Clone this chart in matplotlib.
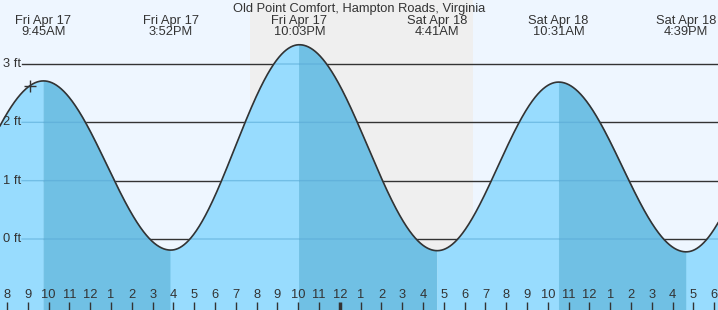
import numpy as np
import matplotlib
matplotlib.use("Agg")
import matplotlib.pyplot as plt

plt.rcParams["font.family"] = ["Liberation Sans", "DejaVu Sans"]

title = "Old Point Comfort, Hampton Roads, Virginia"
# tide extremes: hours from Fri 00:00, height in ft (first/last are off-chart estimates)
extreme_hours = [3.67, 9.75, 15.87, 22.05, 28.68, 34.52, 40.65, 46.80]
extreme_heights = [-0.20, 2.71, -0.19, 3.33, -0.20, 2.69, -0.22, 3.20]
extreme_labels = ["", "Fri Apr 17\n9:45AM", "Fri Apr 17\n3:52PM", "Fri Apr 17\n10:03PM",
                  "Sat Apr 18\n4:41AM", "Sat Apr 18\n10:31AM", "Sat Apr 18\n4:39PM", ""]
sunset_hour = 19.68
sunrise_hour = 30.40
now_hour = 9.10
now_height = 2.62
ytick_values = [0, 1, 2, 3]
hour_ticks = list(range(8, 43))

XMIN, XMAX = 7.66, 42.18
YMIN, YMAX = -1.217, 4.097
PXX = 20.8   # px per hour
PXY = 58.33  # px per ft

SKY = "#eef6ff"
NIGHT = "#efefef"
LIGHT = "#98dcfe"
DARK = "#70c0e4"
TXT = "#333333"
FS = 9.3

fig = plt.figure(figsize=(7.18, 3.10), dpi=100)
ax = fig.add_axes([0, 0, 1, 1])
ax.set_xlim(XMIN, XMAX)
ax.set_ylim(YMIN, YMAX)
ax.axis("off")
ax.add_patch(plt.Rectangle((XMIN - 1, YMIN - 1), XMAX - XMIN + 2, YMAX - YMIN + 2,
                           color=SKY, zorder=0, lw=0))
ax.axvspan(sunset_hour, sunrise_hour, color=NIGHT, zorder=0.5, lw=0)

# curve between extremes (cosine shape)
t = np.linspace(XMIN - 0.5, XMAX + 0.5, 3000)
h = np.zeros_like(t)
for i in range(len(extreme_hours) - 1):
    t0, t1 = extreme_hours[i], extreme_hours[i + 1]
    h0, h1 = extreme_heights[i], extreme_heights[i + 1]
    m = (t >= t0) & (t <= t1)
    f = (t[m] - t0) / (t1 - t0)
    h[m] = h0 + (h1 - h0) * (1 - np.cos(np.pi * f)) / 2

# gridlines behind water
x_line_start = XMIN + 22 / PXX
for v in ytick_values:
    ax.plot([x_line_start, XMAX + 1], [v, v], color="#333333", lw=1, zorder=1)
    ax.text(XMIN + 3 / PXX, v, f"{v} ft", ha="left", va="center", fontsize=FS, color=TXT, zorder=5)

# water fill: light when rising, dark when falling
for i in range(len(extreme_hours) - 1):
    t0, t1 = extreme_hours[i], extreme_hours[i + 1]
    m = (t >= t0) & (t <= t1)
    col = DARK if extreme_heights[i] > extreme_heights[i + 1] else LIGHT
    ax.fill_between(t[m], YMIN - 1, h[m], color=col, lw=0.6, edgecolor=col, zorder=2)
ax.plot(t, h, color="#333333", lw=1.2, zorder=4)

# faint gridlines over water only
for v in ytick_values:
    tv = t[t >= x_line_start]
    hv = h[t >= x_line_start]
    ax.plot(tv, np.where(hv >= v, v, np.nan), color="#5aaad6", lw=1, alpha=0.6, zorder=3)

# current time marker
ax.plot([now_hour], [now_height], marker="+", ms=8, mew=1, color="#333333", zorder=5)

# extreme labels
for hr, lab in zip(extreme_hours, extreme_labels):
    if lab and XMIN <= hr <= XMAX:
        ax.text(hr, YMAX - 14.5 / PXY, lab, ha="center", va="top", fontsize=FS,
                color=TXT, linespacing=0.95, zorder=5)

ax.text((XMIN + XMAX) / 2, YMAX - 2.5 / PXY, title, ha="center", va="top",
        fontsize=FS, color=TXT, zorder=5)

# hour ticks
for hr in hour_ticks:
    lab = hr % 12
    lab = 12 if lab == 0 else lab
    thick = (hr % 24 == 0)
    ax.plot([hr, hr], [YMIN, YMIN + 8 / PXY], color="#333333",
            lw=2.5 if thick else 1, solid_capstyle="butt", zorder=5)
    ax.text(hr, YMIN + 14.5 / PXY, str(lab), ha="center", va="center",
            fontsize=FS, color=TXT, zorder=5)

fig.savefig("out.png", dpi=100)
